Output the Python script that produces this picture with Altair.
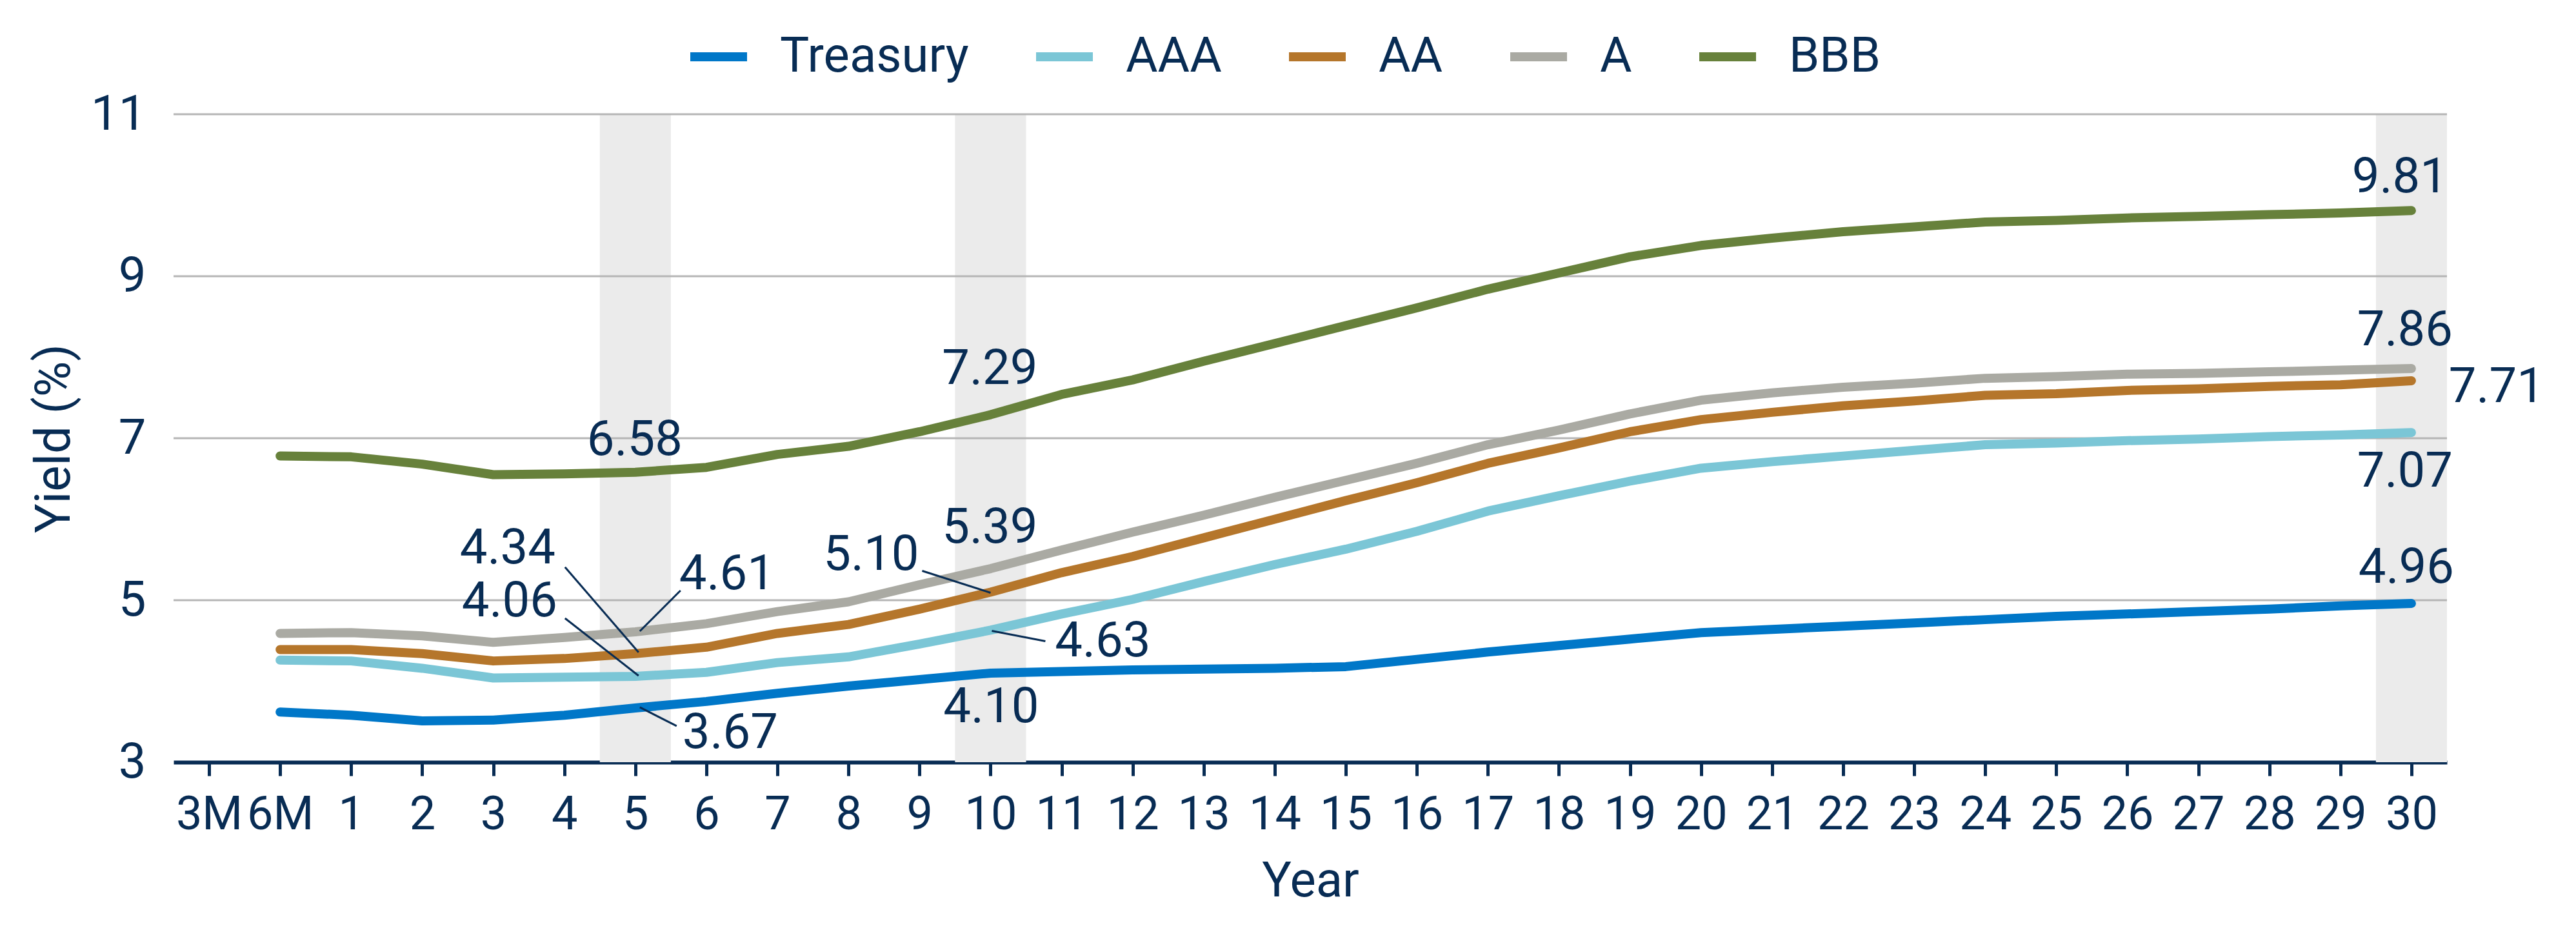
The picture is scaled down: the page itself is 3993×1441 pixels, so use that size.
import altair as alt
import pandas as pd

# ---------------- data ----------------
tenors = ["3M", "6M"] + [str(i) for i in range(1, 31)]
series_names = ["Treasury", "AAA", "AA", "A", "BBB"]
series_colors = ["#0077c8", "#7bc6d6", "#b5762b", "#aaaaa3", "#67813b"]

# values from 6M to 30Y (3M has no data)
treasury = [3.62, 3.58, 3.51, 3.52, 3.58, 3.67, 3.75, 3.85, 3.94, 4.02, 4.10,
            4.12, 4.14, 4.15, 4.16, 4.18, 4.27, 4.36, 4.44, 4.52, 4.60,
            4.64, 4.68, 4.72, 4.76, 4.80, 4.83, 4.86, 4.89, 4.93, 4.96]
aaa = [4.26, 4.25, 4.16, 4.04, 4.05, 4.06, 4.11, 4.23, 4.30, 4.46, 4.63,
       4.83, 5.01, 5.23, 5.44, 5.63, 5.85, 6.10, 6.29, 6.47, 6.63,
       6.71, 6.78, 6.85, 6.92, 6.94, 6.97, 6.99, 7.02, 7.04, 7.07]
aa = [4.39, 4.39, 4.34, 4.25, 4.28, 4.34, 4.42, 4.59, 4.70, 4.89, 5.10,
      5.34, 5.54, 5.77, 6.00, 6.23, 6.45, 6.69, 6.88, 7.08, 7.23,
      7.32, 7.40, 7.46, 7.53, 7.55, 7.59, 7.61, 7.64, 7.66, 7.71]
a = [4.59, 4.60, 4.56, 4.48, 4.54, 4.61, 4.71, 4.86, 4.98, 5.19, 5.39,
     5.62, 5.84, 6.05, 6.27, 6.48, 6.69, 6.92, 7.10, 7.30, 7.47,
     7.56, 7.63, 7.68, 7.74, 7.76, 7.79, 7.80, 7.82, 7.84, 7.86]
bbb = [6.78, 6.77, 6.68, 6.55, 6.56, 6.58, 6.64, 6.80, 6.90, 7.08, 7.29,
       7.54, 7.72, 7.95, 8.17, 8.39, 8.61, 8.84, 9.04, 9.24, 9.38,
       9.47, 9.55, 9.61, 9.67, 9.69, 9.72, 9.74, 9.76, 9.78, 9.81]

highlight_tenors = ["5", "10", "30"]
y_ticks = [3, 5, 7, 9, 11]

# annotations: (series, tenor, label dx px, label dy px, leader offsets px or None)
annotations = [
    ("BBB", "5", -1, -50, None),
    ("BBB", "10", -1, -71, None),
    ("BBB", "30", -18, -51, None),
    ("A", "30", -10, -59, None),
    ("AA", "30", 132, 10, None),
    ("AAA", "30", -10, 61, None),
    ("Treasury", "30", -8, -55, None),
    ("Treasury", "10", 1, 53, None),
    ("AAA", "10", 174, 18, (2, 1, 85, 17)),
    ("A", "10", -1, -63, None),
    ("AA", "10", -185, -57, (-106, -33, 0, 1)),
    ("A", "5", 142, -89, (70, -64, 7, -1)),
    ("AA", "5", -198, -163, (-109, -134, 5, -2)),
    ("AAA", "5", -195, -116, (-109, -90, 5, -1)),
    ("Treasury", "5", 147, 39, (7, -1, 64, 28)),
]

# ---------------- layout / style ----------------
W, H = 3524, 1004
XPX = W / len(tenors)
YPX = H / (y_ticks[-1] - y_ticks[0])
NAVY = "#082c54"
FONT = "Roboto"
FS = 76

# ---------------- tables ----------------
rows = []
for name, vals in zip(series_names, [treasury, aaa, aa, a, bbb]):
    for t, v in zip(tenors[1:], vals):
        rows.append({"series": name, "idx": tenors.index(t), "value": v})
df = pd.DataFrame(rows)

lookup = {(r["series"], tenors[r["idx"]]): r["value"] for r in rows}

lab_rows, lead_rows = [], []
for s, t, dx, dy, lead in annotations:
    i = tenors.index(t)
    v = lookup[(s, t)]
    lab_rows.append({"x": i + dx / XPX, "y": v - dy / YPX, "label": f"{v:.2f}"})
    if lead:
        sx, sy, ex, ey = lead
        lead_rows.append({"x1": i + sx / XPX, "y1": v - sy / YPX,
                          "x2": i + ex / XPX, "y2": v - ey / YPX})
lab_df = pd.DataFrame(lab_rows)
lead_df = pd.DataFrame(lead_rows)

band_df = pd.DataFrame({"i": [tenors.index(t) for t in highlight_tenors]})
band_df["x1"] = band_df["i"] - 0.5
band_df["x2"] = band_df["i"] + 0.5
band_df["y1"] = y_ticks[0]
band_df["y2"] = y_ticks[-1]
grid_df = pd.DataFrame({"v": y_ticks[1:]})

xscale = alt.Scale(domain=[-0.5, len(tenors) - 0.5], nice=False, zero=False)
yscale = alt.Scale(domain=[y_ticks[0], y_ticks[-1]], nice=False, zero=False)

label_expr = "[" + ",".join(f"'{t}'" for t in tenors) + "][datum.value]"

x_axis = alt.Axis(values=list(range(len(tenors))), labelExpr=label_expr,
                  title="Year", grid=False, domainColor=NAVY, domainWidth=6,
                  tickColor=NAVY, tickWidth=5, tickSize=21, labelPadding=25,
                  labelFontSize=72,
                  labelOverlap=False, labelFlush=False, titlePadding=30)
y_axis = alt.Axis(values=y_ticks, title="Yield (%)", grid=False, domain=False,
                  ticks=False, labelPadding=43, titleX=-185, titleY=H / 2,
                  titleAngle=270, titleBaseline="middle", titleAlign="center")

bands = alt.Chart(band_df).mark_rect(color="#ebebeb").encode(
    x=alt.X("x1:Q", scale=xscale, axis=x_axis),
    x2="x2:Q",
    y=alt.Y("y1:Q", scale=yscale, axis=y_axis),
    y2="y2:Q",
)

grid = alt.Chart(grid_df).mark_rule(color="#b5b5b5", strokeWidth=3).encode(
    y=alt.Y("v:Q", scale=yscale, axis=y_axis)
)

lines = alt.Chart(df).mark_line(strokeWidth=14, strokeCap="round", strokeJoin="round").encode(
    x=alt.X("idx:Q", scale=xscale, axis=x_axis),
    y=alt.Y("value:Q", scale=yscale, axis=y_axis),
    color=alt.Color("series:N",
                    scale=alt.Scale(domain=series_names, range=series_colors),
                    legend=alt.Legend(title=None, orient="none", legendX=794, legendY=-140,
                                      direction="horizontal", columns=5,
                                      symbolType="stroke", symbolStrokeWidth=14,
                                      symbolSize=7744, labelOffset=44, labelLimit=0,
                                      columnPadding=76)),
    order="idx:Q",
)

leaders = alt.Chart(lead_df).mark_rule(color=NAVY, strokeWidth=3).encode(
    x=alt.X("x1:Q", scale=xscale, axis=x_axis),
    x2="x2:Q",
    y=alt.Y("y1:Q", scale=yscale, axis=y_axis),
    y2="y2:Q",
)

texts = alt.Chart(lab_df).mark_text(font=FONT, fontSize=FS, color=NAVY,
                                    align="center", baseline="middle").encode(
    x=alt.X("x:Q", scale=xscale, axis=x_axis),
    y=alt.Y("y:Q", scale=yscale, axis=y_axis),
    text="label:N",
)

chart = alt.layer(bands, grid, lines, leaders, texts).properties(
    width=W, height=H,
    padding={"left": 38, "top": 29, "right": 10, "bottom": 10},
).configure_view(stroke=None).configure_axis(
    labelFont=FONT, labelFontSize=FS, labelColor=NAVY,
    titleFont=FONT, titleFontSize=FS, titleColor=NAVY, titleFontWeight="normal",
).configure_legend(
    labelFont=FONT, labelFontSize=FS, labelColor=NAVY,
)

chart.save("out.html", embed_options={"renderer": "svg", "actions": False})
